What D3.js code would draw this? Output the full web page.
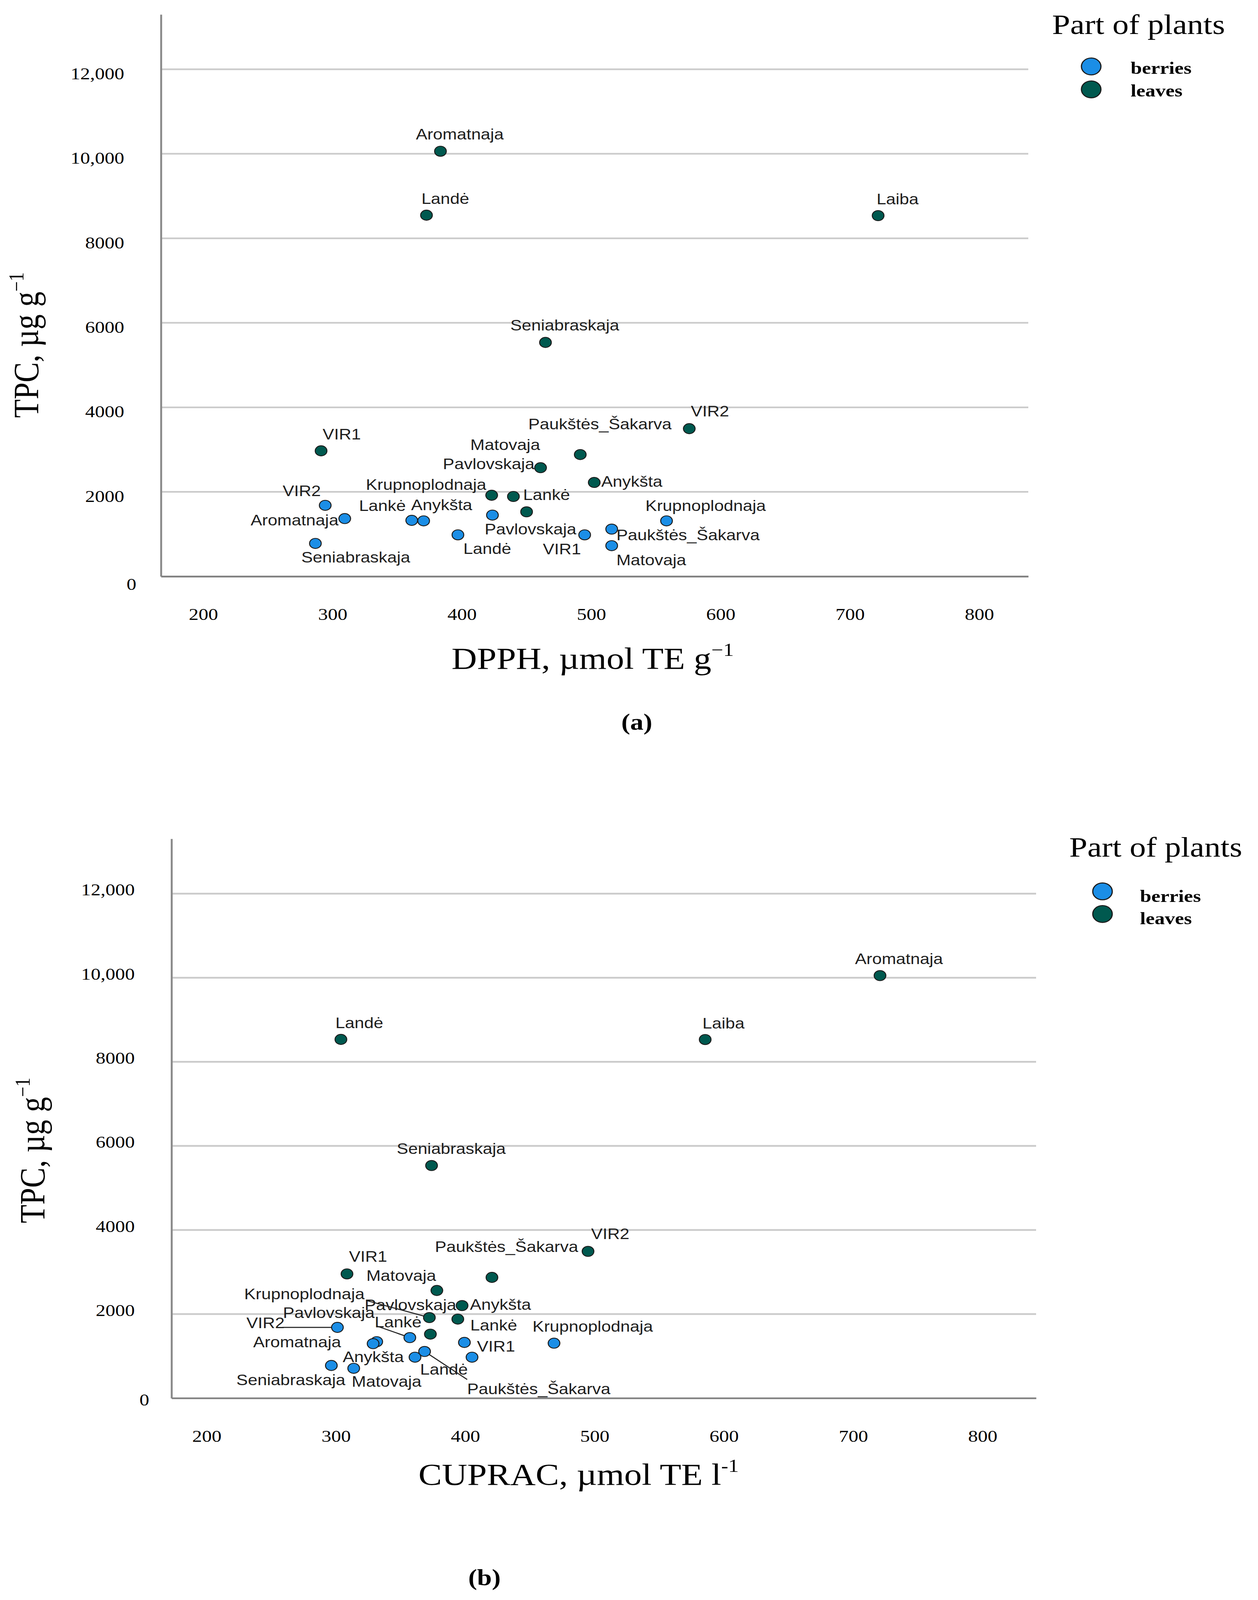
<!DOCTYPE html>
<html lang="en">
<head>
  <meta charset="UTF-8">
  <title>TPC vs DPPH / CUPRAC by part of plants</title>
  <script src="https://d3js.org/d3.v7.min.js"></script>
  <style>
    html, body {
      margin: 0;
      background: #fff;
      overflow: hidden;
    }
    svg {
      display: block;
    }
  </style>
</head>
<body>
  <svg id="chart"></svg>

  <script>
    // shared ticks and groups
    const yTicks = [0, 2000, 4000, 6000, 8000, 10000, 12000];
    const xTicks = [200, 300, 400, 500, 600, 700, 800];
    const parts = ["berries", "leaves"];

    // panel (a): DPPH vs TPC
    const dpphNames = [
      "Aromatnaja", "Landė", "Laiba", "Seniabraskaja", "VIR1", "VIR2",
      "Paukštės_Šakarva", "Pavlovskaja", "Anykšta", "Krupnoplodnaja", "Lankė", "Matovaja",
      "VIR2", "Aromatnaja", "Seniabraskaja", "Lankė", "Anykšta", "Landė",
      "Pavlovskaja", "VIR1", "Krupnoplodnaja", "Paukštės_Šakarva", "Matovaja"
    ];
    const dpphParts = [
      "leaves", "leaves", "leaves", "leaves", "leaves", "leaves",
      "leaves", "leaves", "leaves", "leaves", "leaves", "leaves",
      "berries", "berries", "berries", "berries", "berries", "berries",
      "berries", "berries", "berries", "berries", "berries"
    ];
    const dpphValues = [
      383.4, 372.6, 721.8, 464.6, 291.1, 575.8,
      491.5, 460.8, 502.3, 423.0, 439.8, 450.0,
      294.3, 309.4, 286.7, 361.2, 370.4, 396.9,
      423.6, 494.9, 558.2, 515.8, 515.8
    ];
    const dpphTPC = [
      10060, 8547, 8537, 5536, 2971, 3496,
      2883, 2572, 2223, 1920, 1891, 1528,
      1681, 1368, 780, 1326, 1314, 983,
      1450, 983, 1314, 1119, 727
    ];

    // panel (b): CUPRAC vs TPC
    const cupracNames = [
      "Aromatnaja", "Landė", "Laiba", "Seniabraskaja", "VIR1", "VIR2",
      "Paukštės_Šakarva", "Matovaja", "Pavlovskaja", "Anykšta", "Krupnoplodnaja", "Lankė",
      "VIR2", "Pavlovskaja", "Aromatnaja", "Lankė", "Paukštės_Šakarva", "Anykšta",
      "Landė", "VIR1", "Krupnoplodnaja", "Seniabraskaja", "Matovaja"
    ];
    const cupracParts = dpphParts.slice();
    const cupracValues = [
      720.7, 303.8, 585.5, 373.9, 308.5, 494.9,
      420.6, 373.0, 378.0, 397.5, 372.2, 394.2,
      301.1, 331.5, 328.7, 357.1, 368.5, 361.1,
      405.2, 399.3, 468.6, 296.4, 313.7
    ];
    const cupracTPC = [
      10051, 8533, 8530, 5533, 2955, 3491,
      2872, 1522, 2561, 2202, 1916, 1880,
      1683, 1343, 1296, 1440, 1110, 974,
      974, 1325, 1307, 777, 709
    ];

    // label placement (pixel offsets from the marker, text start / baseline)
    const dpphLabelOffsets = [
      [-63, -35], [-13, -33], [-4, -33], [-90, -36], [4, -34], [4, -36],
      [-133, -75], [-250, 4], [18, 13], [-322, -16], [25, 10], [-144, -183],
      [-109, -27], [-241, 20], [-36, 56], [-135, -28], [-32, -32], [14, 57],
      [-20, 57], [-107, 58], [-54, -29], [12, 33], [12, 58]
    ];
    const cupracLabelOffsets = [
      [-64, -34], [-14, -34], [-7, -33], [-89, -34], [5, -36], [8, -36],
      [-146, -75], [-164, -158], [-185, 58], [20, 13], [-474, -55], [32, 34],
      [-233, 2], [-240, -70], [-307, 11], [-90, -30], [109, 127], [-185, 14],
      [-133, 52], [32, 27], [-55, -34], [-243, 58], [-5, 55]
    ];
    // leader lines: [point index, dx, dy] from the marker to the label
    const cupracLeaders = [[10, -162, -51], [12, -141, 0], [15, -84, -34], [16, 109, 83]];

    const colors = { berries: "#1b8ee6", leaves: "#00594f" };
    const serif = "'Liberation Serif', 'Times New Roman', serif";
    const sans = "'Liberation Sans', Arial, sans-serif";
    const fmt = v => v >= 10000 ? d3.format(",")(v) : String(v);

    // the figure is laid out on a 3220 x 4744 sheet; the sheet is fitted to the window
    const W = 3220, H = 4744;
    const viewH = Math.min(window.innerHeight || H, H);
    const svg = d3.select("#chart")
      .attr("width", W)
      .attr("height", viewH)
      .attr("viewBox", `0 0 ${W} ${H}`)
      .attr("preserveAspectRatio", "none");

    const panels = [
      {
        names: dpphNames, parts: dpphParts, xs: dpphValues, ys: dpphTPC,
        offsets: dpphLabelOffsets, leaders: [],
        xDomain: [167.3, 837.9], yDomain: [0, 13296],
        left: 412, right: 2632, top: 43, bottom: 1709,
        tickShift: 13, zeroShift: [31, 10],
        yTitle: [98, 1023], xTitle: [1517, 1983],
        xLabel: "DPPH, µmol TE g", xSup: "−1",
        legend: { x: 2693, y: 101, mx: 2793, my: [197, 265], tx: 2894, ty: [219, 286] },
        caption: "(a)", capPos: [1630, 2163]
      },
      {
        names: cupracNames, parts: cupracParts, xs: cupracValues, ys: cupracTPC,
        offsets: cupracLabelOffsets, leaders: cupracLeaders,
        xDomain: [172.8, 841.4], yDomain: [0, 13305],
        left: 439, right: 2652, top: 2487, bottom: 4145.5,
        tickShift: -11, zeroShift: [37, 16],
        yTitle: [114, 3411], xTitle: [1481, 4402],
        xLabel: "CUPRAC, µmol TE l", xSup: "-1",
        legend: { x: 2737, y: 2540, mx: 2822, my: [2643, 2710], tx: 2918, ty: [2674, 2740] },
        caption: "(b)", capPos: [1240, 4700]
      }
    ];

    panels.forEach(drawPanel);

    function drawPanel(p) {
      const g = svg.append("g");
      const x = d3.scaleLinear().domain(p.xDomain).range([p.left, p.right]);
      const y = d3.scaleLinear().domain(p.yDomain).range([p.bottom, p.top]);

      // horizontal gridlines
      g.append("g").selectAll("line")
        .data(yTicks.filter(t => t > 0))
        .join("line")
        .attr("x1", p.left).attr("x2", p.right)
        .attr("y1", d => y(d)).attr("y2", d => y(d))
        .attr("stroke", "#cbcbcb")
        .attr("stroke-width", 5);

      // axes
      const yAxis = g.append("g")
        .attr("transform", `translate(${p.left},0)`)
        .call(d3.axisLeft(y).tickValues(yTicks).tickSize(0).tickPadding(94).tickFormat(fmt));
      yAxis.attr("font-family", serif).attr("font-size", 50);
      yAxis.select(".domain").attr("stroke", "#8c8c8c").attr("stroke-width", 5);
      yAxis.selectAll(".tick text").attr("fill", "#000")
        .attr("transform", d => d === 0
          ? `translate(${p.zeroShift[0]},${p.tickShift + p.zeroShift[1]})`
          : `translate(0,${p.tickShift})`);

      const xAxis = g.append("g")
        .attr("transform", `translate(0,${p.bottom})`)
        .call(d3.axisBottom(x).tickValues(xTicks).tickSize(0).tickPadding(94));
      xAxis.attr("font-family", serif).attr("font-size", 50);
      xAxis.select(".domain").attr("stroke", "#808080").attr("stroke-width", 5);
      xAxis.selectAll(".tick text").attr("fill", "#000");

      const pts = p.names.map((n, i) => ({
        name: n, part: p.parts[i], px: x(p.xs[i]), py: y(p.ys[i]),
        dx: p.offsets[i][0], dy: p.offsets[i][1]
      }));

      // point labels
      g.append("g").selectAll("text")
        .data(pts)
        .join("text")
        .attr("x", d => d.px + d.dx)
        .attr("y", d => d.py + d.dy)
        .attr("font-family", sans)
        .attr("font-size", 44)
        .attr("fill", "#1e1e1e")
        .text(d => d.name);

      // leader lines
      g.append("g").selectAll("line")
        .data(p.leaders)
        .join("line")
        .attr("x1", d => pts[d[0]].px).attr("y1", d => pts[d[0]].py)
        .attr("x2", d => pts[d[0]].px + d[1]).attr("y2", d => pts[d[0]].py + d[2])
        .attr("stroke", "#222")
        .attr("stroke-width", 3);

      // markers
      g.append("g").selectAll("circle")
        .data(pts)
        .join("circle")
        .attr("cx", d => d.px)
        .attr("cy", d => d.py)
        .attr("r", 15)
        .attr("fill", d => colors[d.part])
        .attr("stroke", "#1a1a1a")
        .attr("stroke-width", 2.5);

      // axis titles
      const yt = g.append("text")
        .attr("transform", `translate(${p.yTitle[0]},${p.yTitle[1]}) rotate(-90)`)
        .attr("text-anchor", "middle")
        .attr("font-family", serif)
        .attr("font-size", 90);
      yt.append("tspan").text("TPC, µg g");
      yt.append("tspan").attr("font-size", 54).attr("dy", -38).text("−1");

      const xt = g.append("text")
        .attr("x", p.xTitle[0]).attr("y", p.xTitle[1])
        .attr("text-anchor", "middle")
        .attr("font-family", serif)
        .attr("font-size", 90);
      xt.append("tspan").text(p.xLabel);
      xt.append("tspan").attr("font-size", 54).attr("dy", -38).text(p.xSup);

      // legend
      const lg = p.legend;
      g.append("text")
        .attr("x", lg.x).attr("y", lg.y)
        .attr("font-family", serif)
        .attr("font-size", 83)
        .text("Part of plants");
      g.append("g").selectAll("circle")
        .data(parts)
        .join("circle")
        .attr("cx", lg.mx)
        .attr("cy", (d, i) => lg.my[i])
        .attr("r", 25)
        .attr("fill", d => colors[d])
        .attr("stroke", "#1a1a1a")
        .attr("stroke-width", 3);
      g.append("g").selectAll("text")
        .data(parts)
        .join("text")
        .attr("x", lg.tx)
        .attr("y", (d, i) => lg.ty[i])
        .attr("font-family", serif)
        .attr("font-weight", "bold")
        .attr("font-size", 52)
        .text(d => d);

      // panel caption
      g.append("text")
        .attr("x", p.capPos[0]).attr("y", p.capPos[1])
        .attr("text-anchor", "middle")
        .attr("font-family", serif)
        .attr("font-weight", "bold")
        .attr("font-size", 68)
        .text(p.caption);
    }
  </script>
</body>
</html>
